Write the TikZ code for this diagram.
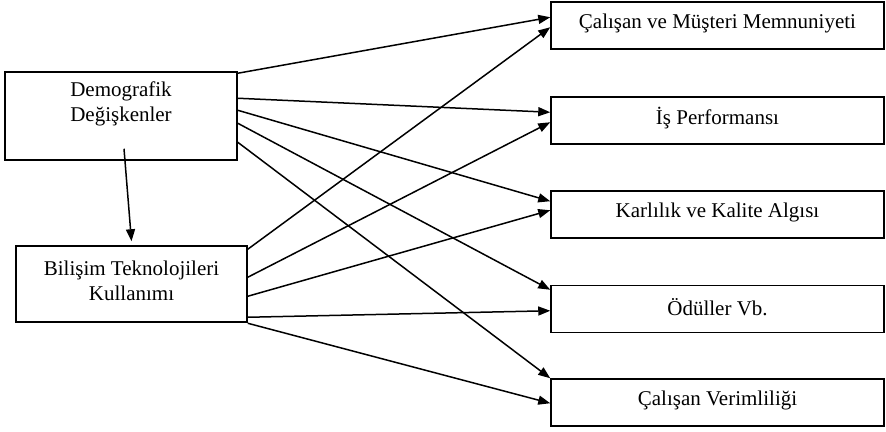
\documentclass[tikz,border=0pt]{standalone}
\usepackage{fontspec}
\setmainfont{Liberation Serif}
\usetikzlibrary{arrows.meta}
\begin{document}
\begin{tikzpicture}[x=1pt,y=-1pt,
  box/.style={draw,line width=1.5pt,inner sep=0pt},
  lbl/.style={font=\fontsize{21}{25}\selectfont,align=center,inner sep=0pt},
  arr/.style={line width=1.5pt,-{Triangle[length=12pt,width=9pt]}}]
\useasboundingbox (0,0) rectangle (886,431);
% left boxes
\node[box,minimum width=232pt,minimum height=88pt] (dem) at (121,116) {};
\node[lbl] (demtxt) at ([yshift=-33pt]dem.north) {Demografik\\Değişkenler};
\node[box,minimum width=231pt,minimum height=76pt] (bil) at (131.5,284) {};
\node[lbl] (biltxt) at ([yshift=3pt]bil.center) {Bilişim Teknolojileri\\Kullanımı};
% right boxes
\foreach \n/\y/\t in {r1/25.5/{Çalışan ve Müşteri Memnuniyeti},
                      r2/120.5/{İş Performansı},
                      r3/214.5/{Karlılık ve Kalite Algısı},
                      r4/309/{Ödüller Vb.},
                      r5/402.5/{Çalışan Verimliliği}}{
  \node[box,minimum width=333pt,minimum height=47pt] (\n) at (717.5,\y) {};
  \node[lbl] (\n txt) at ([yshift=2pt]\n.center) {\t};
}
% down arrow
\draw[arr] ([xshift=3pt,yshift=12pt]dem.south) -- ([yshift=4pt]bil.north);
% from Demografik
\draw[arr] ([yshift=-2pt]dem.north east) -- ([yshift=-16pt]r1.north west);
\draw[arr] ([yshift=-27pt]dem.north east) -- ([yshift=-16pt]r2.north west);
\draw[arr] ([yshift=-39pt]dem.north east) -- ([yshift=-11pt]r3.north west);
\draw[arr] ([yshift=-52pt]dem.north east) -- ([yshift=-5pt]r4.north west);
\draw[arr] ([yshift=-71pt]dem.north east) -- ([yshift=0pt]r5.north west);
% from Bilisim
\draw[arr] ([yshift=-4pt]bil.north east) -- ([yshift=-26pt]r1.north west);
\draw[arr] ([yshift=-32pt]bil.north east) -- ([yshift=-26pt]r2.north west);
\draw[arr] ([yshift=-51pt]bil.north east) -- ([yshift=-20pt]r3.north west);
\draw[arr] ([yshift=-72pt]bil.north east) -- ([yshift=-26pt]r4.north west);
\draw[arr] ([yshift=-78pt]bil.north east) -- ([yshift=-25pt]r5.north west);
\end{tikzpicture}
\end{document}
